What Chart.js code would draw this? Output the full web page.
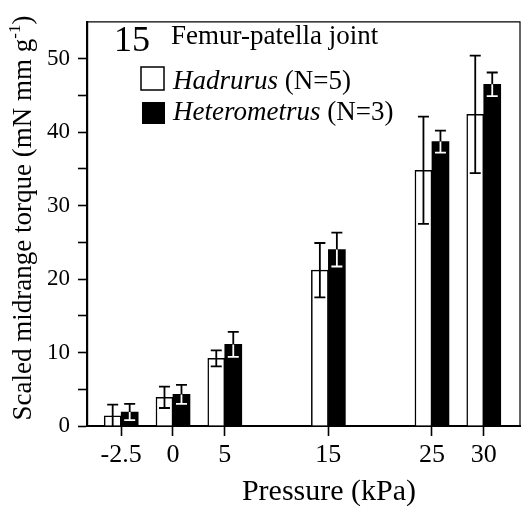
<!DOCTYPE html>
<html>
<head>
<meta charset="utf-8">
<script src="https://cdn.jsdelivr.net/npm/chart.js@4.4.1/dist/chart.umd.min.js"></script>
<style>
    html, body { margin: 0; padding: 0; background: #fff; }
    #wrap { width: 530px; height: 509px; }
</style>
</head>
<body>
<div id="wrap"><canvas id="torqueChart"></canvas></div>
<script>
// Pressure steps (kPa); 10 and 20 are empty slots on the axis
const pressures = ["-2.5", "0", "5", "10", "15", "20", "25", "30"];
const hadrurus = [1.4, 3.9, 9.2, null, 21.2, null, 34.8, 42.4];
const hadrurusSd = [1.5, 1.45, 1.1, null, 3.7, null, 7.3, 8.0];
const heterometrus = [1.9, 4.3, 11.1, null, 24.0, null, 38.7, 46.5];
const heterometrusSd = [1.1, 1.3, 1.7, null, 2.3, null, 1.5, 1.6];
const yTicks = [0, 10, 20, 30, 40, 50];

const SERIF = "'Liberation Serif', 'Times New Roman', serif";

function toPoints(values) {
    return values
        .map((v, i) => (v === null ? null : { x: i, y: v }))
        .filter(p => p !== null);
}

// error bars: black outside the bar, white where they cross a black bar
const errorBars = {
    id: "errorBars",
    afterDatasetsDraw(chart) {
        const ctx = chart.ctx;
        const y = chart.scales.y;
        const sds = [hadrurusSd, heterometrusSd];
        chart.data.datasets.forEach((ds, di) => {
            const meta = chart.getDatasetMeta(di);
            meta.data.forEach((bar, j) => {
                const pt = ds.data[j];
                const sd = sds[di][pt.x];
                const top = y.getPixelForValue(pt.y + sd);
                const bot = y.getPixelForValue(Math.max(pt.y - sd, 0));
                const cx = bar.x;
                const half = 5.5;
                const paint = color => {
                    ctx.strokeStyle = color;
                    ctx.lineWidth = 1.8;
                    ctx.beginPath();
                    ctx.moveTo(cx, top);
                    ctx.lineTo(cx, bot);
                    ctx.moveTo(cx - half, top);
                    ctx.lineTo(cx + half, top);
                    if (pt.y - sd > 0) {
                        ctx.moveTo(cx - half, bot);
                        ctx.lineTo(cx + half, bot);
                    }
                    ctx.stroke();
                };
                ctx.save();
                paint("#000");
                if (di === 1) {
                    ctx.beginPath();
                    ctx.rect(bar.x - bar.width / 2, bar.y, bar.width, bar.base - bar.y);
                    ctx.clip();
                    paint("#fff");
                }
                ctx.restore();
            });
        });
    }
};

// frame, key and axis titles
const decorations = {
    id: "decorations",
    afterDraw(chart) {
        const ctx = chart.ctx;
        const a = chart.chartArea;
        ctx.save();
        ctx.fillStyle = "#000";
        ctx.strokeStyle = "#000";

        ctx.lineWidth = 1.2;
        ctx.beginPath();
        ctx.moveTo(a.left, a.top);
        ctx.lineTo(a.right, a.top);
        ctx.lineTo(a.right, a.bottom);
        ctx.stroke();

        ctx.textBaseline = "alphabetic";
        ctx.textAlign = "left";
        ctx.font = "36px " + SERIF;
        ctx.fillText("15", 114, 51);
        ctx.font = "27px " + SERIF;
        ctx.fillText("Femur-patella joint", 171, 44);

        ctx.lineWidth = 1.5;
        ctx.fillStyle = "#fff";
        ctx.fillRect(141, 67, 23, 23);
        ctx.strokeRect(141, 67, 23, 23);
        ctx.fillStyle = "#000";
        ctx.fillRect(142, 102, 23, 22);

        const keyRow = (name, n, x, base) => {
            ctx.font = "italic 27px " + SERIF;
            ctx.fillText(name, x, base);
            const w = ctx.measureText(name).width;
            ctx.font = "27px " + SERIF;
            ctx.fillText(" " + n, x + w, base);
        };
        keyRow("Hadrurus", "(N=5)", 173, 89);
        keyRow("Heterometrus", "(N=3)", 173, 120);

        // x title
        ctx.textAlign = "center";
        ctx.font = "30px " + SERIF;
        ctx.fillText("Pressure (kPa)", 329, 500);

        // y title with superscript
        const main = "Scaled midrange torque (mN mm g";
        const sup = "-1";
        const tail = ")";
        ctx.font = "27px " + SERIF;
        const wMain = ctx.measureText(main).width;
        const wTail = ctx.measureText(tail).width;
        ctx.font = "17px " + SERIF;
        const wSup = ctx.measureText(sup).width;
        const total = wMain + wSup + wTail;
        ctx.translate(31, 218);
        ctx.rotate(-Math.PI / 2);
        ctx.textAlign = "left";
        let x = -total / 2;
        ctx.font = "27px " + SERIF;
        ctx.fillText(main, x, 0);
        x += wMain;
        ctx.font = "17px " + SERIF;
        ctx.fillText(sup, x, -11);
        x += wSup;
        ctx.font = "27px " + SERIF;
        ctx.fillText(tail, x, 0);
        ctx.restore();
    }
};

new Chart(document.getElementById("torqueChart"), {
    type: "bar",
    data: {
        datasets: [
            {
                label: "Hadrurus (N=5)",
                data: toPoints(hadrurus),
                backgroundColor: "#fff",
                borderColor: "#000",
                borderWidth: 1.5,
                borderSkipped: "bottom",
                barThickness: 17
            },
            {
                label: "Heterometrus (N=3)",
                data: toPoints(heterometrus),
                backgroundColor: "#000",
                borderColor: "#000",
                borderWidth: 0,
                barThickness: 17
            }
        ]
    },
    options: {
        responsive: true,
        maintainAspectRatio: false,
        animation: false,
        layout: { padding: { top: 7, right: 10, left: 0, bottom: 0 } },
        plugins: {
            legend: { display: false },
            tooltip: { enabled: false }
        },
        scales: {
            x: {
                type: "linear",
                min: -0.66,
                max: 7.7,
                offset: false,
                grid: {
                    drawOnChartArea: false,
                    offset: false,
                    tickLength: 10,
                    tickWidth: 1.6,
                    tickColor: "#000"
                },
                border: { color: "#000", width: 2 },
                afterBuildTicks(scale) {
                    scale.ticks = pressures
                        .map((p, i) => (hadrurus[i] === null ? null : { value: i }))
                        .filter(t => t !== null);
                },
                afterFit(scale) {
                    scale.height = 83;
                },
                ticks: {
                    autoSkip: false,
                    maxRotation: 0,
                    padding: 4,
                    color: "#000",
                    font: { family: SERIF, size: 26 },
                    callback: value => pressures[value]
                }
            },
            y: {
                min: 0,
                max: 55,
                grid: {
                    drawOnChartArea: false,
                    tickLength: 9,
                    tickWidth: 1.6,
                    tickColor: "#000"
                },
                border: { color: "#000", width: 2.2 },
                afterBuildTicks(scale) {
                    const list = [];
                    for (let v = 0; v <= 50; v += 5) list.push({ value: v });
                    scale.ticks = list;
                },
                afterFit(scale) {
                    scale.width = 87;
                },
                ticks: {
                    autoSkip: false,
                    padding: 8,
                    color: "#000",
                    font: { family: SERIF, size: 23 },
                    callback: value => (yTicks.includes(value) ? String(value) : "")
                }
            }
        }
    },
    plugins: [errorBars, decorations]
});
</script>
</body>
</html>
